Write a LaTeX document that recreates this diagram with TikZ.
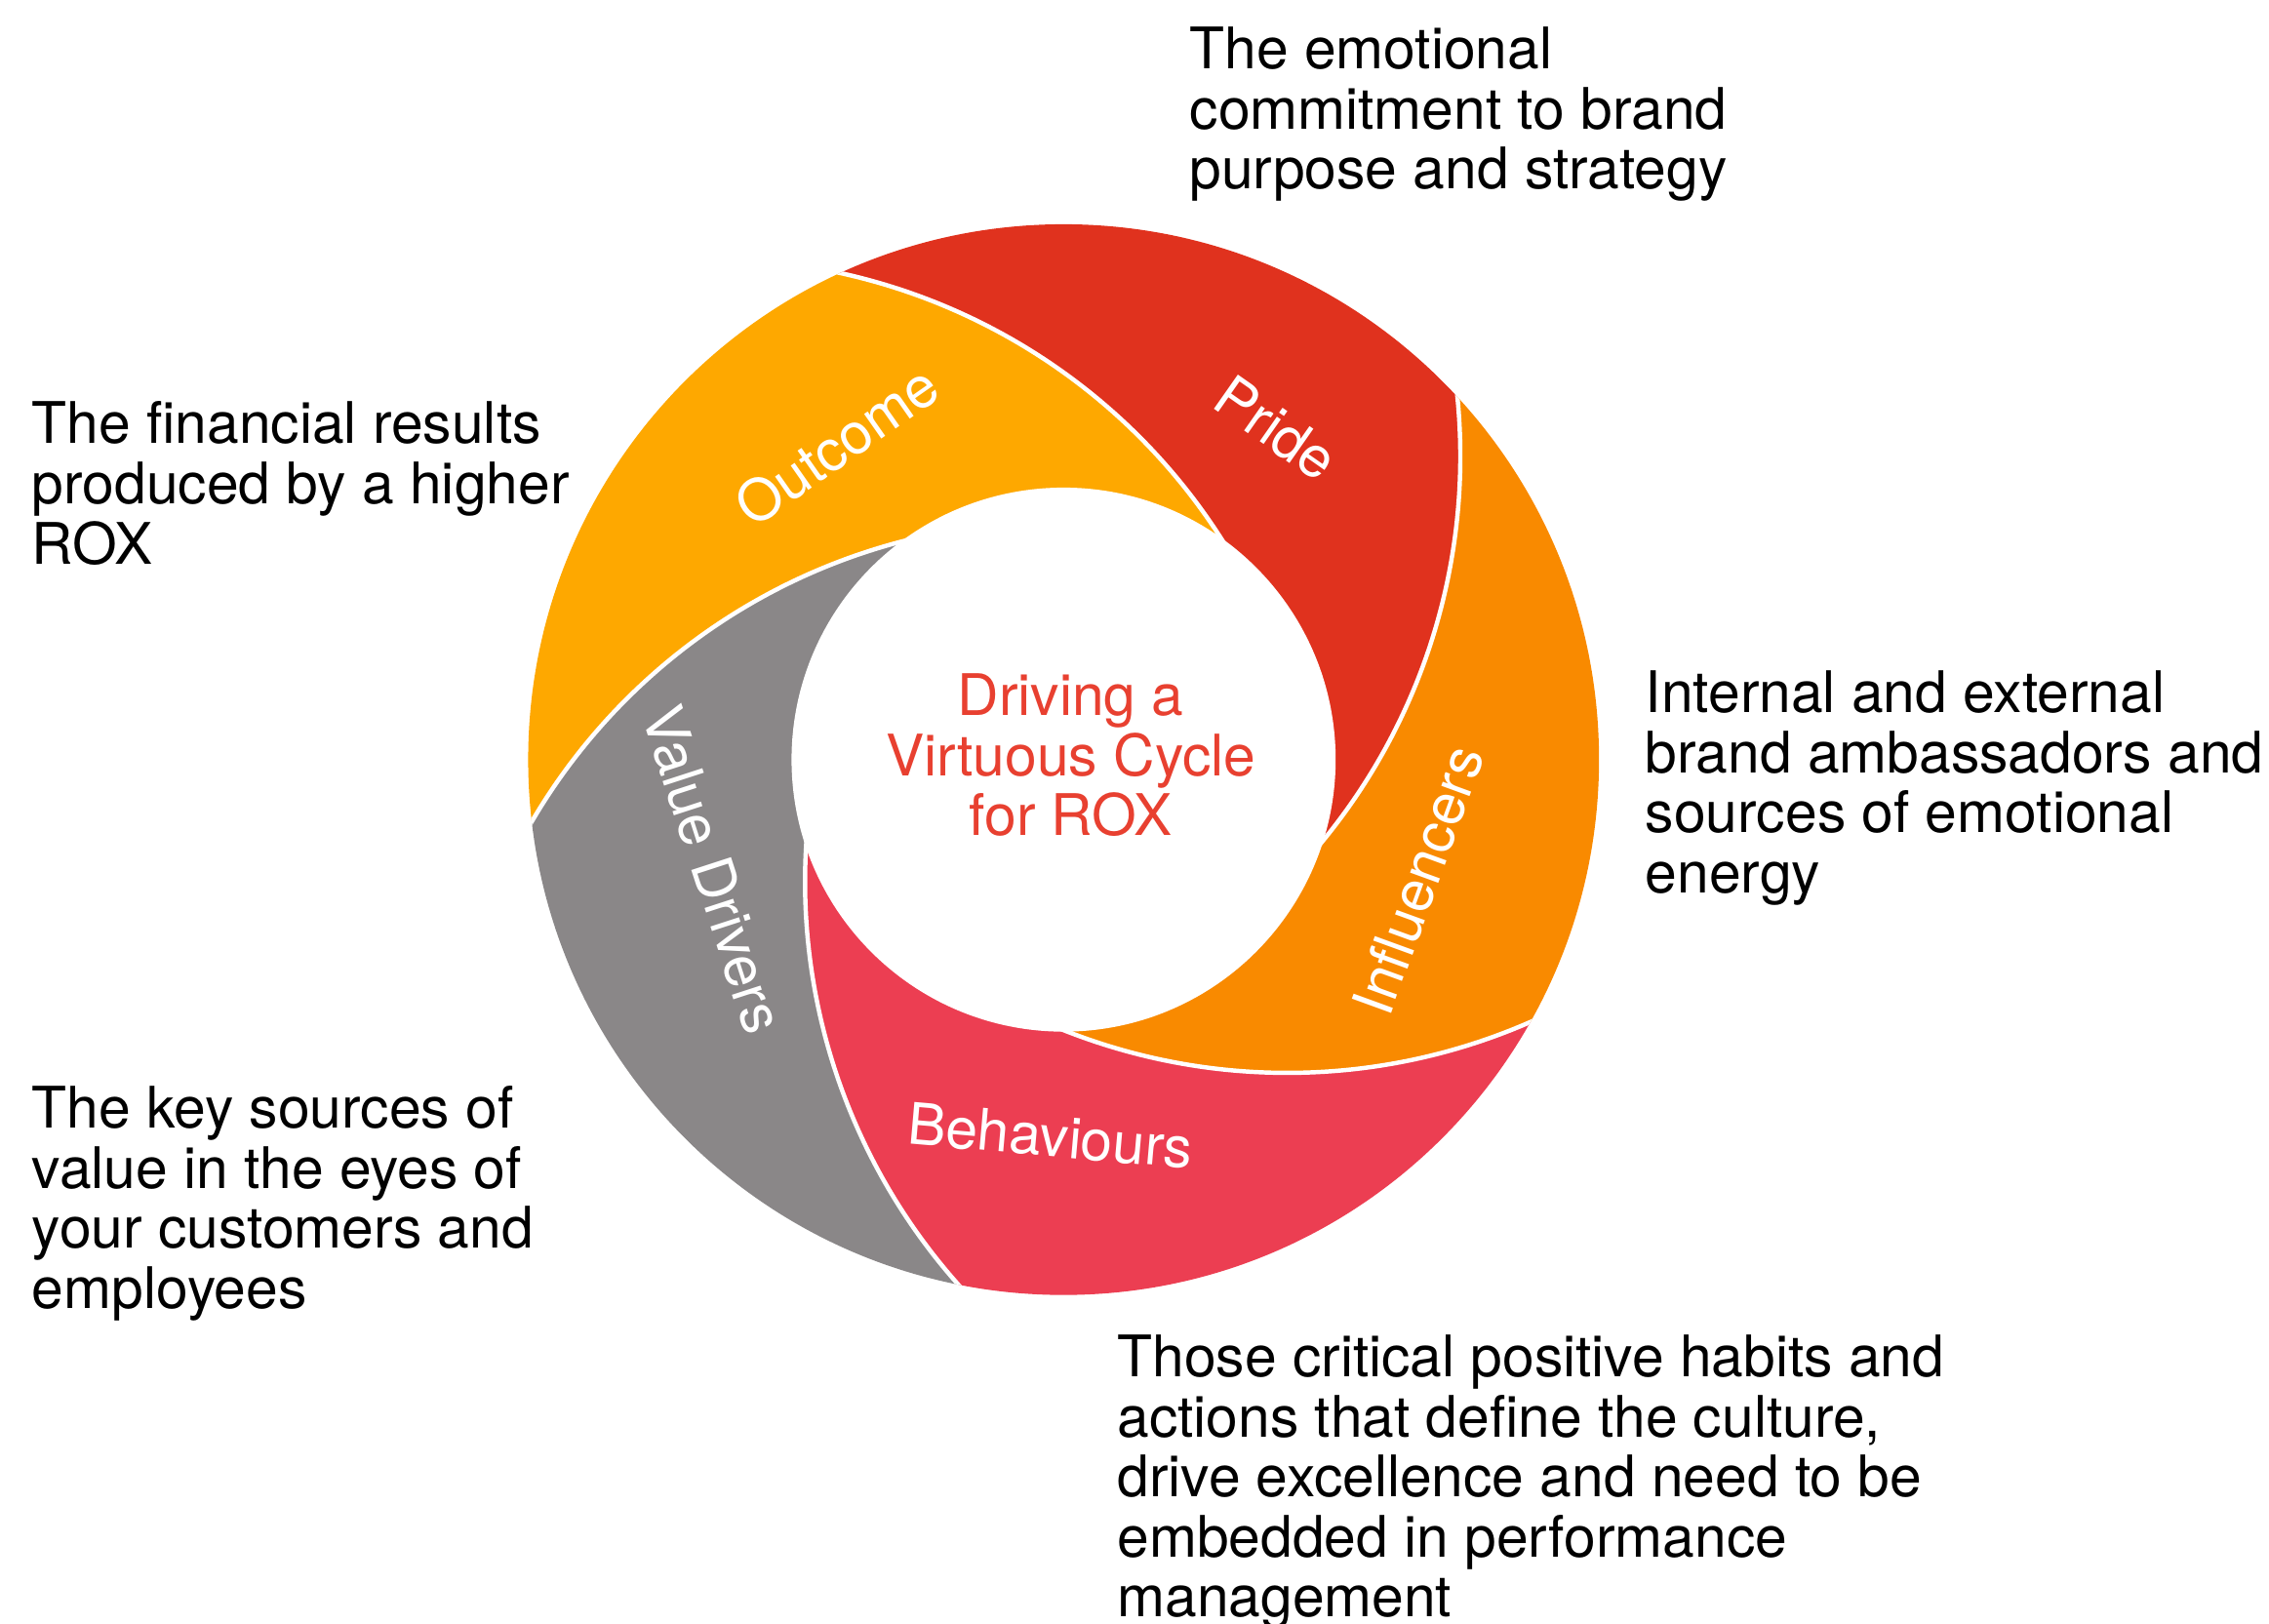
\documentclass[tikz,border=0pt]{standalone}
\usepackage{fontspec}
\setmainfont{TeX Gyre Heros}
\definecolor{cOutcome}{RGB}{254,168,0}
\definecolor{cPride}{RGB}{224,50,30}
\definecolor{cInfl}{RGB}{249,138,0}
\definecolor{cBehav}{RGB}{236,62,82}
\definecolor{cValue}{RGB}{138,135,136}
\definecolor{cCenter}{RGB}{232,64,48}
\tikzset{
  bigfont/.style={font=\fontsize{39.6}{41.5}\selectfont},
  desc/.style={bigfont, anchor=north west, align=left, inner sep=0pt, text=black},
  seglabel/.style={bigfont, text=white, inner sep=0pt},
  sepline/.style={draw=white, line width=3pt},
}
\begin{document}
\begin{tikzpicture}[x=1pt,y=1pt]
\useasboundingbox (-735,-597) rectangle (833,525);
\begin{scope}
  \clip (0,0) circle[radius=370pt];
  \foreach \k/\col in {0/cOutcome,1/cPride,2/cInfl,3/cBehav,4/cValue}{
    \begin{scope}[rotate=-72*\k]
      \fill[\col] (121.91:406.4pt) arc[start angle=86,end angle=28,radius=419pt]
        -- (116.48:176.5pt) arc[start angle=100,end angle=158,radius=419pt]
        arc[start angle=193.91,end angle=121.91,radius=406.4pt] -- cycle;
    \end{scope}
  }
  \foreach \k in {0,...,4}{
    \begin{scope}[rotate=-72*\k]
      \draw[sepline] (121.91:406.4pt) arc[start angle=86,end angle=28,radius=419pt];
    \end{scope}
  }
\end{scope}
\fill[white] (0,0) circle[radius=188pt];

\node[seglabel, rotate=35] (lOutcome) at (-157,217) {Outcome};
\node[seglabel, rotate=-35] (lPride) at (147,229) {Pride};
\node[seglabel, rotate=70] (lInfl) at (245,-83) {Influencers};
\node[seglabel, rotate=-5] (lBehav) at (-9,-260) {Behaviours};
\node[seglabel, rotate=-72] (lValue) at (-242,-76) {Value Drivers};

\node[bigfont, text=cCenter, align=center, inner sep=0pt] (title) at (5,3) {Driving a\\Virtuous Cycle\\for ROX};

\node[desc] (dPride) at (87,506.5) {The emotional\\commitment to brand\\purpose and strategy};
\node[desc] (dOutcome) at (-713,247.5) {The financial results\\produced by a higher\\ROX};
\node[desc] (dInfl) at (402,61.5) {Internal and external\\brand ambassadors and\\sources of emotional\\energy};
\node[desc] (dValue) at (-713,-225.5) {The key sources of\\value in the eyes of\\your customers and\\employees};
\node[desc] (dBehav) at (37,-397.5) {Those critical positive habits and\\actions that define the culture,\\drive excellence and need to be\\embedded in performance\\management};
\end{tikzpicture}
\end{document}
